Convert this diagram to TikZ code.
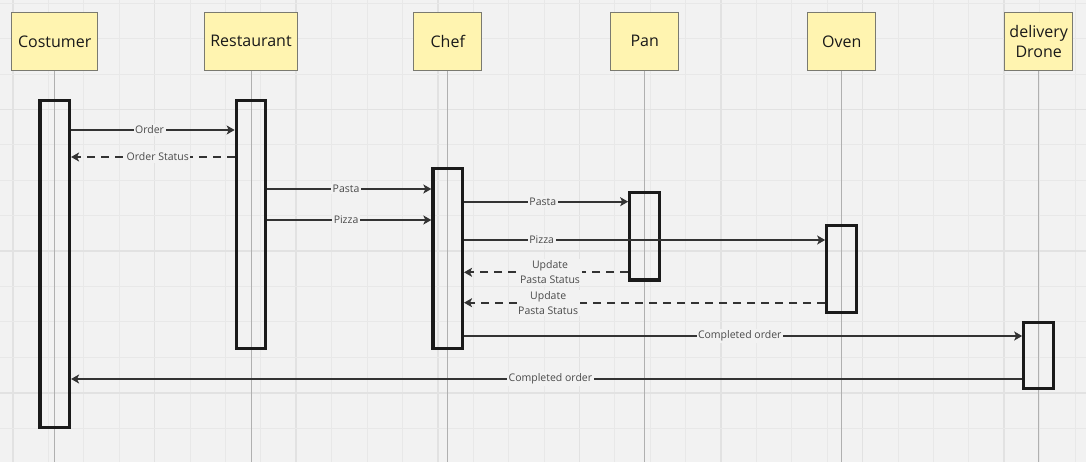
\documentclass[tikz,border=0pt]{standalone}
\usepackage{fontspec}
\setmainfont{Open Sans}
\usetikzlibrary{arrows.meta}
\definecolor{bg}{HTML}{F2F2F2}
\definecolor{gridc}{HTML}{E8E8E8}
\definecolor{gridd}{HTML}{E2E2E2}
\definecolor{hdrfill}{HTML}{FFF4B0}
\definecolor{hdrline}{HTML}{7A7A70}
\definecolor{lifec}{HTML}{B0B0B0}
\definecolor{barc}{HTML}{1A1A1A}
\definecolor{arrc}{HTML}{333333}
\definecolor{lblc}{HTML}{4A4A4A}
\tikzset{
  hdr/.style={draw=hdrline, fill=hdrfill, line width=1pt, minimum height=58pt, inner sep=2pt, align=center, font=\fontsize{16}{19.5}\selectfont, text=black!90},
  actbar/.style={draw=barc, line width=3.2pt, minimum width=29.5pt, inner sep=0pt},
  life/.style={draw=lifec, line width=1pt},
  msg/.style={draw=arrc, line width=1.9pt, -{Stealth[length=8pt,width=9pt,inset=2pt]}},
  ret/.style={msg, dash pattern=on 8pt off 6pt},
  lbl/.style={fill=bg, inner sep=1.5pt, text=lblc, align=center, font=\fontsize{10.5}{15}\selectfont}
}
\begin{document}
\begin{tikzpicture}[x=1pt,y=-1pt]
\fill[bg] (0,0) rectangle (1086,462);
\useasboundingbox (0,0) rectangle (1086,462);
% grid
\foreach \k in {0,...,30}{
  \pgfmathsetmacro\gx{13+35.4*\k}
  \pgfmathtruncatemacro\m{mod(\k,4)}
  \ifnum\m=0
    \draw[gridd, line width=1.6pt] (\gx,0) -- (\gx,462);
  \else
    \draw[gridc, line width=1pt] (\gx,0) -- (\gx,462);
  \fi
}
\foreach \k in {0,...,12}{
  \pgfmathsetmacro\gy{3.3+35.4*\k}
  \pgfmathtruncatemacro\m{mod(\k,4)}
  \ifnum\m=3
    \draw[gridd, line width=1.6pt] (0,\gy) -- (1086,\gy);
  \else
    \draw[gridc, line width=1pt] (0,\gy) -- (1086,\gy);
  \fi
}
% headers
\node[hdr, minimum width=86pt] (hC) at (54.7,41.3) {Costumer};
\node[hdr, minimum width=92.4pt] (hR) at (251,41.3) {Restaurant};
\node[hdr, minimum width=68pt] (hCh) at (447.8,41.3) {Chef};
\node[hdr, minimum width=68pt] (hP) at (644.7,41.3) {Pan};
\node[hdr, minimum width=68pt] (hO) at (841.8,41.3) {Oven};
\node[hdr, minimum width=68pt, font=\fontsize{16}{20.5}\selectfont] (hD) at (1038.7,41.3) {delivery\\Drone};
% lifeline ends
\coordinate (eC) at (hC.south |- 0,462);
\coordinate (eR) at (hR.south |- 0,462);
\coordinate (eCh) at (hCh.south |- 0,462);
\coordinate (eP) at (hP.south |- 0,462);
\coordinate (eO) at (hO.south |- 0,462);
\coordinate (eD) at (hD.south |- 0,462);
\foreach \h/\e in {hC/eC,hR/eR,hCh/eCh,hP/eP,hO/eO,hD/eD}{
  \draw[life] (\h.south) -- (\e);
}
% activation bars
\node[actbar, minimum height=327pt] (bC) at (54.7,264) {};
\node[actbar, minimum height=248pt] (bR) at (251,224.5) {};
\node[actbar, minimum height=179.7pt] (bCh) at (447.7,258.7) {};
\node[actbar, minimum height=87.5pt] (bP) at (644.5,236.2) {};
\node[actbar, minimum height=87pt] (bO) at (841.5,269.3) {};
\node[actbar, minimum height=66pt] (bD) at (1038.5,355.5) {};
% messages
\draw[msg] (bC.east |- 0,130) -- node[lbl, pos=0.48] {Order} (bR.west |- 0,130);
\draw[ret] (bR.west |- 0,157) -- node[lbl, pos=0.47] {Order Status} (bC.east |- 0,157);
\draw[msg] (bR.east |- 0,189) -- node[lbl, pos=0.48] {Pasta} (bCh.west |- 0,189);
\draw[msg] (bR.east |- 0,220) -- node[lbl, pos=0.48] {Pizza} (bCh.west |- 0,220);
\draw[msg] (bCh.east |- 0,201.7) -- node[lbl, pos=0.48] {Pasta} (bP.west |- 0,201.7);
\draw[msg] (bCh.east |- 0,240) -- node[lbl, pos=0.215] {Pizza} (bO.west |- 0,240);
\draw[ret] (bP.west |- 0,272.3) -- node[lbl, pos=0.476] {Update\\Pasta Status} (bCh.east |- 0,272.3);
\draw[ret] (bO.west |- 0,302.7) -- node[lbl, pos=0.767] {Update\\Pasta Status} (bCh.east |- 0,302.7);
\draw[msg] (bCh.east |- 0,336) -- node[lbl, pos=0.494] {Completed order} (bD.west |- 0,336);
\draw[msg] (bD.west |- 0,379) -- node[lbl, pos=0.496] {Completed order} (bC.east |- 0,379);
\end{tikzpicture}
\end{document}
